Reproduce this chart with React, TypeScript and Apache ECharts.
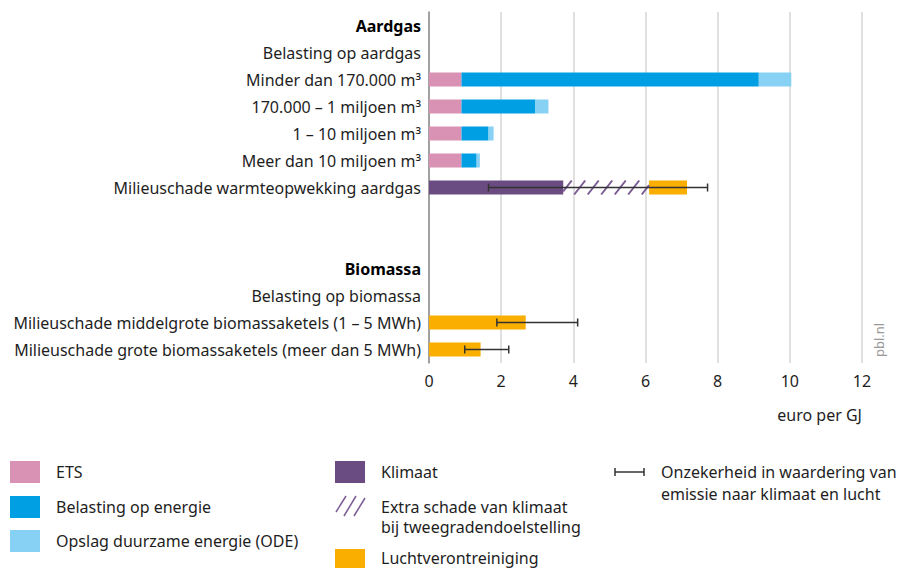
import React, { useEffect, useRef } from "react";
import * as echarts from "echarts";

const categories = [
  "Aardgas",
  "Belasting op aardgas",
  "Minder dan 170.000 m³",
  "170.000 – 1 miljoen m³",
  "1 – 10 miljoen m³",
  "Meer dan 10 miljoen m³",
  "Milieuschade warmteopwekking aardgas",
  " ",
  "  ",
  "Biomassa",
  "Belasting op biomassa",
  "Milieuschade middelgrote biomassaketels (1 – 5 MWh)",
  "Milieuschade grote biomassaketels (meer dan 5 MWh)",
];
const headers = ["Aardgas", "Biomassa"];

const ets = [null, null, 0.9, 0.9, 0.9, 0.9, null, null, null, null, null, null, null];
const belasting = [null, null, 8.24, 2.05, 0.75, 0.42, null, null, null, null, null, null, null];
const ode = [null, null, 0.9, 0.36, 0.14, 0.09, null, null, null, null, null, null, null];
const klimaat = [null, null, null, null, null, null, 3.72, null, null, null, null, null, null];
const extraKlimaat = [null, null, null, null, null, null, 2.38, null, null, null, null, null, null];
const lucht = [null, null, null, null, null, null, 1.05, null, null, null, null, 2.68, 1.43];
const errLow = [null, null, null, null, null, null, 1.65, null, null, null, null, 1.88, 0.99];
const errHigh = [null, null, null, null, null, null, 7.72, null, null, null, null, 4.12, 2.21];

const xMin = 0;
const xMax = 12;
const xInterval = 2;

const FONT = '"Noto Sans", "Open Sans", sans-serif';
const FS = 16;
const C_ETS = "#d992b4";
const C_BEL = "#009fe3";
const C_ODE = "#87d1f5";
const C_KLI = "#6b4c82";
const C_HATCH = "#7b5b94";
const C_LUCHT = "#f9ae00";
const TXT = "#1e1e1e";

const BAR_W = 14;

export default function App() {
  const ref = useRef<HTMLDivElement>(null);

  useEffect(() => {
    if (!ref.current) return;
    const chart = echarts.init(ref.current, undefined, { renderer: "svg" });

    const hatchData: number[][] = [];
    extraKlimaat.forEach((v, i) => {
      if (v != null) {
        const s = klimaat[i] ?? 0;
        hatchData.push([s, s + v, i]);
      }
    });
    const errData: number[][] = [];
    errLow.forEach((v, i) => {
      if (v != null && errHigh[i] != null) errData.push([v, errHigh[i] as number, i]);
    });

    const barBase = {
      type: "bar",
      stack: "total",
      barWidth: BAR_W,
      silent: true,
    };

    const text = (x: number, y: number, t: string, extra: any = {}) => ({
      type: "text",
      x,
      y,
      silent: true,
      style: {
        text: t,
        fill: TXT,
        fontSize: FS,
        fontFamily: FONT,
        align: "left",
        textAlign: "left",
        verticalAlign: "middle",
        textVerticalAlign: "middle",
        ...extra,
      },
    });
    const sq = (x: number, y: number, color: string) => ({
      type: "rect",
      silent: true,
      shape: { x, y, width: 30, height: 22 },
      style: { fill: color },
    });
    const ln = (x1: number, y1: number, x2: number, y2: number, stroke: string, lw: number) => ({
      type: "line",
      silent: true,
      shape: { x1, y1, x2, y2 },
      style: { stroke, lineWidth: lw },
    });

    const option: any = {
      animation: false,
      backgroundColor: "#ffffff",
      textStyle: { fontFamily: FONT },
      grid: { left: 429, right: 36, top: 12, height: 351 },
      xAxis: {
        type: "value",
        min: xMin,
        max: xMax,
        interval: xInterval,
        axisLine: { show: false },
        axisTick: { show: false },
        splitLine: { show: true, lineStyle: { color: "#d6d6d6", width: 1.5 } },
        axisLabel: { fontSize: FS, color: TXT, margin: 10, fontFamily: FONT },
      },
      yAxis: {
        type: "category",
        data: categories,
        inverse: true,
        axisLine: { show: true, onZero: false, lineStyle: { color: "#8c8c8c", width: 1.5 } },
        axisTick: { show: false },
        splitLine: { show: false },
        axisLabel: {
          interval: 0,
          margin: 8,
          fontSize: FS,
          color: TXT,
          fontFamily: FONT,
          formatter: (v: string) => (headers.includes(v) ? `{b|${v}}` : v),
          rich: {
            b: { fontWeight: "bold", fontSize: FS, color: "#000", fontFamily: FONT },
          },
        },
      },
      series: [
        { ...barBase, name: "ETS", data: ets, itemStyle: { color: C_ETS } },
        { ...barBase, name: "Belasting op energie", data: belasting, itemStyle: { color: C_BEL } },
        { ...barBase, name: "Opslag duurzame energie (ODE)", data: ode, itemStyle: { color: C_ODE } },
        { ...barBase, name: "Klimaat", data: klimaat, itemStyle: { color: C_KLI } },
        {
          ...barBase,
          name: "Extra schade van klimaat bij tweegradendoelstelling",
          data: extraKlimaat,
          itemStyle: { color: "rgba(0,0,0,0)" },
        },
        { ...barBase, name: "Luchtverontreiniging", data: lucht, itemStyle: { color: C_LUCHT } },
        {
          type: "custom",
          name: "hatch",
          silent: true,
          data: hatchData,
          encode: { x: [0, 1], y: 2 },
          z: 3,
          renderItem: (_params: any, api: any) => {
            const s = api.value(0);
            const e = api.value(1);
            const idx = api.value(2);
            const p1 = api.coord([s, idx]);
            const p2 = api.coord([e, idx]);
            const h = BAR_W;
            const top = p1[1] - h / 2;
            const bot = p1[1] + h / 2;
            const x1 = p1[0];
            const x2 = p2[0];
            const dx = 11;
            const spacing = 13.5;
            const children: any[] = [];
            for (let xb = x1 - 2.5; xb < x2; xb += spacing) {
              let ax = xb, ay = bot, bx = xb + dx, by = top;
              if (ax < x1) {
                const t = (x1 - xb) / dx;
                ax = x1;
                ay = bot - t * h;
              }
              if (bx > x2) {
                const t = (x2 - xb) / dx;
                bx = x2;
                by = bot - t * h;
              }
              if (bx <= ax) continue;
              children.push({
                type: "line",
                shape: { x1: ax, y1: ay, x2: bx, y2: by },
                style: { stroke: C_HATCH, lineWidth: 2 },
              });
            }
            return { type: "group", children };
          },
        },
        {
          type: "custom",
          name: "Onzekerheid",
          silent: true,
          data: errData,
          encode: { x: [0, 1], y: 2 },
          z: 4,
          renderItem: (_params: any, api: any) => {
            const idx = api.value(2);
            const l = api.coord([api.value(0), idx]);
            const r = api.coord([api.value(1), idx]);
            const y = l[1];
            const st = { stroke: "#333333", lineWidth: 1.5 };
            return {
              type: "group",
              children: [
                { type: "line", shape: { x1: l[0], y1: y, x2: r[0], y2: y }, style: st },
                { type: "line", shape: { x1: l[0], y1: y - 4, x2: l[0], y2: y + 4 }, style: st },
                { type: "line", shape: { x1: r[0], y1: y - 4, x2: r[0], y2: y + 4 }, style: st },
              ],
            };
          },
        },
      ],
      graphic: [
        text(862, 415, "euro per GJ", { align: "right", textAlign: "right" }),
        {
          type: "text",
          x: 879,
          y: 340,
          rotation: Math.PI / 2,
          silent: true,
          style: {
            text: "pbl.nl",
            fill: "#9a9a9a",
            fontSize: 13,
            fontFamily: FONT,
            align: "center",
            textAlign: "center",
            verticalAlign: "middle",
            textVerticalAlign: "middle",
          },
        },
        // legend column 1
        sq(10, 461, C_ETS),
        text(56, 472, "ETS"),
        sq(10, 496, C_BEL),
        text(56, 507, "Belasting op energie"),
        sq(10, 530, C_ODE),
        text(56, 541, "Opslag duurzame energie (ODE)"),
        // legend column 2
        sq(335, 461, C_KLI),
        text(381, 472, "Klimaat"),
        ln(336, 512, 346, 496, C_HATCH, 1.5),
        ln(344, 516, 356, 496, C_HATCH, 1.5),
        ln(354, 516, 365, 498, C_HATCH, 1.5),
        text(381, 507, "Extra schade van klimaat"),
        text(381, 527, "bij tweegradendoelstelling"),
        sq(335, 549, C_LUCHT),
        text(381, 558, "Luchtverontreiniging"),
        // legend column 3
        ln(615, 472, 644, 472, "#333333", 1.5),
        ln(615, 468, 615, 476, "#333333", 1.5),
        ln(644, 468, 644, 476, "#333333", 1.5),
        text(661, 472, "Onzekerheid in waardering van"),
        text(661, 494, "emissie naar klimaat en lucht"),
      ],
    };

    chart.setOption(option);
    return () => chart.dispose();
  }, []);

  return (
    <div
      ref={ref}
      style={{ position: "fixed", left: 0, top: 0, width: 898, height: 568, background: "#fff" }}
    />
  );
}
